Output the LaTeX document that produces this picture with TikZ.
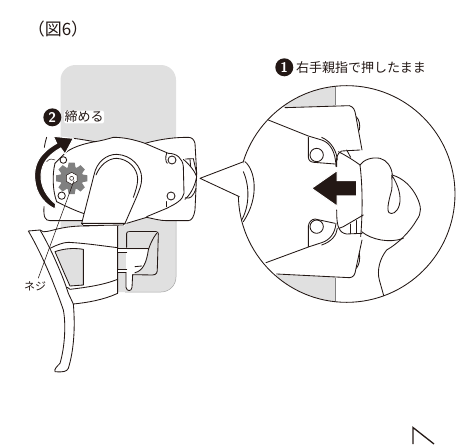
\documentclass[tikz,border=0pt]{standalone}
\usepackage{fontspec}
\newfontfamily\cjk{Noto Sans CJK JP}
\tikzset{
  x=1pt,y=-1pt,
  ln/.style={draw=ink,line width=0.85pt,line join=round,line cap=round},
  wf/.style={ln,fill=white},
  lbl/.style={font=\cjk\fontsize{13}{14}\selectfont,text=ink,inner sep=0pt},
  num/.style={circle,fill=ink,text=white,minimum size=18pt,inner sep=0pt,font=\sffamily\bfseries\fontsize{14}{14}\selectfont}
}
\definecolor{ink}{HTML}{231815}
\definecolor{pale}{HTML}{E0E0E0}
\definecolor{gearc}{HTML}{808080}
\begin{document}
\begin{tikzpicture}
\useasboundingbox (0,0) rectangle (460,444);
% phone
\fill[pale,rounded corners=15pt] (60.5,65) rectangle (176,292);
\draw[gray!70,line width=.5pt,rounded corners=15pt] (176,200) -- (176,292) -- (125,292);
% title
\node[lbl,font=\cjk\fontsize{17}{18}\selectfont] (title) at (58,29) {（図6）};
% lower mount (zoom 2 units)
\begin{scope}[shift={(0,200)},scale=1/3]
\path[wf] (85,93) -- (120,90) .. controls (125,96) and (130,98) .. (160,90) .. controls (190,82) and (220,78) .. (250,78) -- (353,75) -- (353,280) .. controls (310,300) and (260,308) .. (220,312) .. controls (226,380) and (222,450) .. (205,505) .. controls (200,515) and (190,517) .. (165,515) .. controls (162,508) and (170,500) .. (180,490) .. controls (195,440) and (198,370) .. (190,330) .. controls (170,270) and (130,170) .. (85,93) -- cycle;
\draw[ln] (120,90) .. controls (150,140) and (190,230) .. (205,280) -- (220,312);
\draw[ln] (150,145) .. controls (170,135) and (190,127) .. (205,127) .. controls (260,130) and (310,138) .. (353,143);
\draw[ln,fill=pale] (165,155) .. controls (185,148) and (215,142) .. (250,148) -- (250,255) -- (210,258) .. controls (195,225) and (180,190) .. (165,155) -- cycle;
\draw[ln] (202,262) -- (210,268) .. controls (260,262) and (310,255) .. (353,238);
% hook
\fill[white] (353,146) rectangle (380,156);
\fill[white] (353,208) rectangle (380,218);
\fill[white] (378,148) -- (445,148) .. controls (440,185) and (430,212) .. (405,218) -- (396,224) -- (396,262) .. controls (395,275) and (380,275) .. (378,262) -- cycle;
\draw[ln] (353,146) -- (445,146);
\draw[ln] (353,156) -- (380,156);
\draw[ln] (353,208) -- (380,208);
\draw[ln] (353,218) -- (378,218);
\draw[ln] (378,218) -- (378,262) .. controls (380,275) and (395,275) .. (396,262) -- (398,224) -- (458,225) .. controls (470,224) and (472,218) .. (472,205) -- (475,102);
\draw[white,line width=1.6pt] (384,97) -- (470,97);
\draw[ln] (380,142) -- (380,100) .. controls (380,96) and (383,95) .. (388,95) -- (468,95) .. controls (473,95) and (475,98) .. (475,102);
\draw[ln] (470,100) .. controls (455,120) and (450,135) .. (445,150) .. controls (440,185) and (430,212) .. (405,218);
\draw[ln] (405,200) -- (425,198);
\end{scope}
% body (zoom 1 units)
\begin{scope}[shift={(20,60)},scale=1/3]
\fill[white] (85,232) .. controls (70,280) and (70,400) .. (72,450) .. controls (70,470) and (75,482) .. (90,482) -- (185,482) -- (185,490) -- (320,490) -- (380,472) .. controls (400,476) and (420,482) .. (440,482) -- (505,482) .. controls (515,482) and (522,470) .. (525,450) -- (530,340) -- (525,250) .. controls (522,238) and (515,232) .. (505,232) .. controls (470,232) and (430,235) .. (375,250) .. controls (340,238) and (310,232) .. (280,232) .. controls (260,238) and (240,243) .. (225,245) .. controls (205,242) and (185,238) .. (160,235) -- cycle;
\draw[ln] (72,440) .. controls (70,470) and (75,482) .. (90,482) -- (188,482);
\draw[ln] (80,232) .. controls (77,240) and (75,250) .. (73,262);
\draw[ln] (320,490) -- (380,472) .. controls (400,476) and (420,482) .. (440,482) -- (505,482) .. controls (515,482) and (522,470) .. (525,450) -- (530,340) -- (525,250) .. controls (522,238) and (515,232) .. (505,232) .. controls (470,232) and (430,235) .. (375,250) .. controls (340,238) and (310,232) .. (280,232) .. controls (260,238) and (240,243) .. (225,245) .. controls (205,242) and (185,238) .. (160,235);
\draw[ln] (105,310) .. controls (97,340) and (97,390) .. (110,425);
\draw[ln] (105,310) .. controls (115,300) and (125,290) .. (135,280) .. controls (150,265) and (185,252) .. (225,245);
\draw[ln] (110,425) .. controls (130,435) and (160,450) .. (195,462);
\draw[ln] (380,470) -- (440,445) .. controls (470,430) and (488,420) .. (492,400) -- (490,320) .. controls (488,295) and (470,280) .. (445,280) -- (375,250);
\draw[ln] (440,280) .. controls (436,290) and (436,305) .. (442,310);
\draw[ln] (440,440) -- (440,425);
\draw[wf] (456,300) circle (12);
\draw[wf] (453,408) circle (12);
\draw[wf] (130,300) circle (10);
\draw[wf] (125,407) circle (11);
% button
\draw[ln] (490,298) .. controls (510,315) and (525,335) .. (530,350) .. controls (525,380) and (510,405) .. (495,418);
\draw[ln] (497,297) -- (520,296) -- (530,340);
\draw[ln] (510,298) -- (512,320);
\draw[ln] (497,413) .. controls (510,418) and (520,410) .. (528,385);
% gear
\fill[gearc] (155,355) circle (35);
\foreach \a in {0,45,...,315}{
  \fill[gearc,rotate around={\a:(155,355)}] (146,308) -- (164,308) -- (168,330) -- (142,330) -- cycle;
}
\draw[ln,fill=white,line width=.5pt] (155,337) -- (171,346) -- (171,364) -- (155,373) -- (139,364) -- (139,346) -- cycle;
\draw[ln,line width=.5pt] (155,355) circle (6);
% arm
\path[wf] (185,490) -- (222,345) .. controls (230,305) and (260,283) .. (290,283) .. controls (335,285) and (365,320) .. (365,355) .. controls (365,375) and (358,390) .. (350,410) -- (315,490) -- cycle;
\draw[ln] (228,345) .. controls (240,315) and (265,295) .. (290,295) .. controls (325,297) and (353,325) .. (353,358) .. controls (353,375) and (346,395) .. (340,412);
\fill[white] (186,490) rectangle (314,497);
\draw[ln] (185,490) -- (190,497) -- (310,495) -- (315,490);
\draw[ln] (185,490) -- (315,490);
% small squiggle
\draw[ln,line width=.5pt] (80,305) .. controls (88,296) and (95,296) .. (105,300);
% curved arrow
\path[fill=ink,draw=white,line width=1pt] (105,447) .. controls (60,425) and (42,385) .. (44,340) .. controls (46,310) and (58,280) .. (110,250) -- (100,229) -- (160,235) -- (135,282) -- (122,264) .. controls (85,285) and (65,310) .. (63,345) .. controls (62,380) and (80,410) .. (107,432) -- cycle;
% circled 2 label
\node[num] (n2) at (97,172) {2};
\node[lbl,anchor=west,fill=white,rounded corners=2pt,inner sep=.4pt] (t2) at (132,171) {締める};
% leader
\draw[ln,line width=.55pt] (162,362) -- (55,654);
\end{scope}
\node[lbl,font=\cjk\fontsize{11}{12}\selectfont] (neji) at (35,286) {ネジ};
% callout (zoom 3 units)
\begin{scope}[shift={(190,50)},scale=1/3]
\fill[white] (470,432) circle (325);
\begin{scope}
\clip (470,432) circle (325);
\fill[pale] (130,100) rectangle (435,172);
\fill[pale] (130,676) rectangle (435,770);
\draw[gray,line width=.6pt] (435,100) -- (435,166);
\draw[gray,line width=.6pt] (435,685) -- (435,770);
\fill[white] (130,173) -- (285,173) -- (480,167) -- (520,300) -- (520,570) -- (480,683) -- (260,672) -- (130,672) -- cycle;
\draw[ln] (285,173) -- (478,167) .. controls (490,170) and (495,180) .. (497,195) -- (516,300);
\draw[ln] (499,200) .. controls (508,210) and (511,225) .. (508,240);
\draw[ln] (235,210) -- (355,258) -- (395,270) .. controls (420,278) and (437,305) .. (438,350);
\draw[ln] (355,262) -- (355,322) .. controls (356,332) and (362,336) .. (372,337) -- (435,342);
\draw[ln] (395,262) .. controls (425,275) and (440,305) .. (442,330);
\draw[ln] (380,315) circle (20);
\draw[ln] (228,638) -- (358,590) -- (395,578) .. controls (420,570) and (435,550) .. (438,520);
\draw[ln] (355,590) -- (355,528) .. controls (357,515) and (365,508) .. (375,507) -- (435,520);
\draw[ln] (395,585) .. controls (425,575) and (440,555) .. (442,535);
\draw[ln] (380,530) circle (20);
\draw[ln] (260,672) -- (478,683) .. controls (490,682) and (495,675) .. (497,660) -- (516,570);
\draw[ln] (499,655) .. controls (508,645) and (511,625) .. (508,610);
% button
\draw[ln] (440,350) -- (440,325) .. controls (443,312) and (448,305) .. (455,303) -- (510,300);
\draw[ln] (445,305) .. controls (465,315) and (490,330) .. (510,345);
\draw[ln] (470,300) -- (482,322);
\draw[ln] (440,480) .. controls (440,510) and (442,525) .. (447,535) .. controls (452,545) and (458,550) .. (470,552) -- (516,550);
\draw[ln] (447,535) -- (460,530) -- (520,495);
\draw[ln] (480,522) -- (480,550);
\draw[ln] (500,512) -- (500,550);
% thumb
\draw[ln] (510,345) .. controls (520,330) and (545,320) .. (570,325) .. controls (590,330) and (605,350) .. (607,375) .. controls (640,385) and (665,410) .. (680,440) .. controls (695,470) and (695,490) .. (680,510) .. controls (660,545) and (625,580) .. (590,600) .. controls (570,625) and (560,660) .. (568,690) -- (582,740);
\draw[ln] (510,345) .. controls (518,410) and (518,490) .. (512,560);
\draw[ln] (515,545) .. controls (545,570) and (600,580) .. (640,565);
\draw[ln] (605,375) .. controls (625,405) and (635,440) .. (628,465) .. controls (622,488) and (605,495) .. (597,488) .. controls (588,478) and (600,440) .. (605,420) .. controls (607,405) and (606,390) .. (605,375) -- cycle;
\path[fill=ink,draw=white,line width=1pt] (365,415) -- (441,362) -- (441,392) -- (500,392) -- (500,438) -- (441,438) -- (441,468) -- cycle;
\end{scope}
% disc outline, pointer
\draw[ln] (470,432) circle (325);
\fill[white] (30,385) -- (161,335) -- (146,440) -- cycle;
\draw[ln] (165,335) .. controls (195,360) and (210,440) .. (160,515);
\draw[ln] (160,365) .. controls (180,410) and (178,470) .. (155,510);
\draw[ln] (161,335) -- (30,385) -- (148,440);
\end{scope}
\node[num] (n1) at (284.3,67.3) {1};
\node[lbl,anchor=west] (t1) at (296,68) {右手親指で押したまま};
% corner mark
\coordinate (ca) at (413,444);
\coordinate (cb) at (413,427.5);
\coordinate (cc) at (434,444);
\draw[ink,line width=1.3pt] (ca) -- (cb) -- (cc);
\end{tikzpicture}
\end{document}
